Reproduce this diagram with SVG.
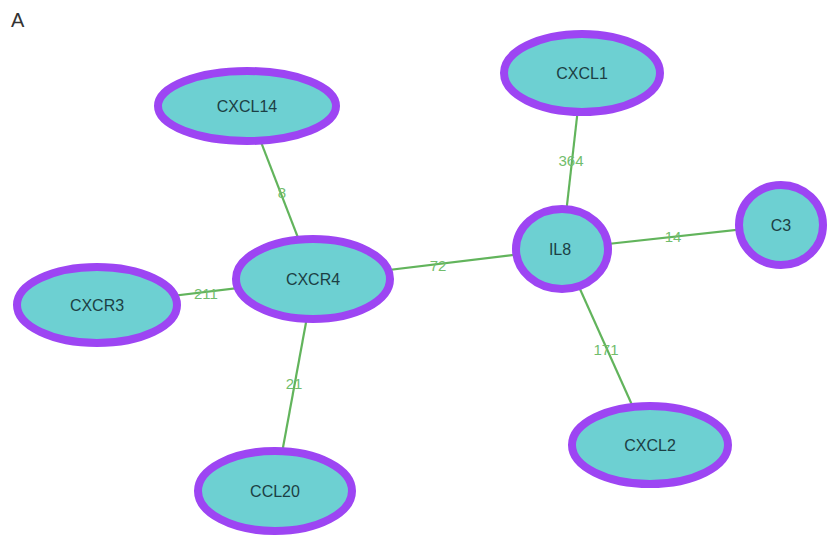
<svg xmlns="http://www.w3.org/2000/svg" width="839" height="550" viewBox="0 0 839 550">
<style>
.n ellipse{fill:#6dd0d2;stroke:#9d45f3;stroke-width:8}
.n text{font-family:"Liberation Sans",Arial,sans-serif;font-size:16px;fill:#1c3f44;text-anchor:middle;dominant-baseline:central}
.e line{stroke:#62b45c;stroke-width:2.2}
.e text{font-family:"Liberation Sans",Arial,sans-serif;font-size:15px;fill:#72bd6c;text-anchor:middle;dominant-baseline:central}
</style>
<rect width="839" height="550" fill="#fff"/>
<text x="11" y="27" font-family="Liberation Sans,Arial,sans-serif" font-size="20" fill="#333">A</text>
<g id="edges" class="e">
<line x1="247" y1="106" x2="314" y2="279"/>
<line x1="582" y1="73" x2="562" y2="249"/>
<line x1="314" y1="279" x2="562" y2="249"/>
<line x1="562" y1="249" x2="781" y2="225"/>
<line x1="97" y1="305" x2="314" y2="279"/>
<line x1="314" y1="279" x2="275" y2="491"/>
<line x1="562" y1="249" x2="650" y2="445"/>
<text x="282" y="192">8</text>
<text x="571" y="160">364</text>
<text x="438" y="265">72</text>
<text x="673" y="236">14</text>
<text x="206" y="293">211</text>
<text x="294" y="383">21</text>
<text x="606" y="349">171</text>
</g>
<g id="CXCL14" class="n"><ellipse cx="247" cy="106" rx="89" ry="35"/><text x="247" y="106">CXCL14</text></g>
<g id="CXCL1" class="n"><ellipse cx="582" cy="73" rx="78" ry="39"/><text x="582" y="73">CXCL1</text></g>
<g id="CXCR4" class="n"><ellipse cx="313" cy="279" rx="77" ry="40"/><text x="313" y="279">CXCR4</text></g>
<g id="IL8" class="n"><ellipse cx="562" cy="249" rx="46" ry="40"/><text x="560" y="249">IL8</text></g>
<g id="C3" class="n"><ellipse cx="781" cy="225" rx="42" ry="40"/><text x="781" y="225">C3</text></g>
<g id="CXCR3" class="n"><ellipse cx="97" cy="305" rx="80" ry="38"/><text x="97" y="305">CXCR3</text></g>
<g id="CCL20" class="n"><ellipse cx="275" cy="491" rx="77" ry="40"/><text x="275" y="491">CCL20</text></g>
<g id="CXCL2" class="n"><ellipse cx="650" cy="445" rx="78" ry="39"/><text x="650" y="445">CXCL2</text></g>
</svg>
